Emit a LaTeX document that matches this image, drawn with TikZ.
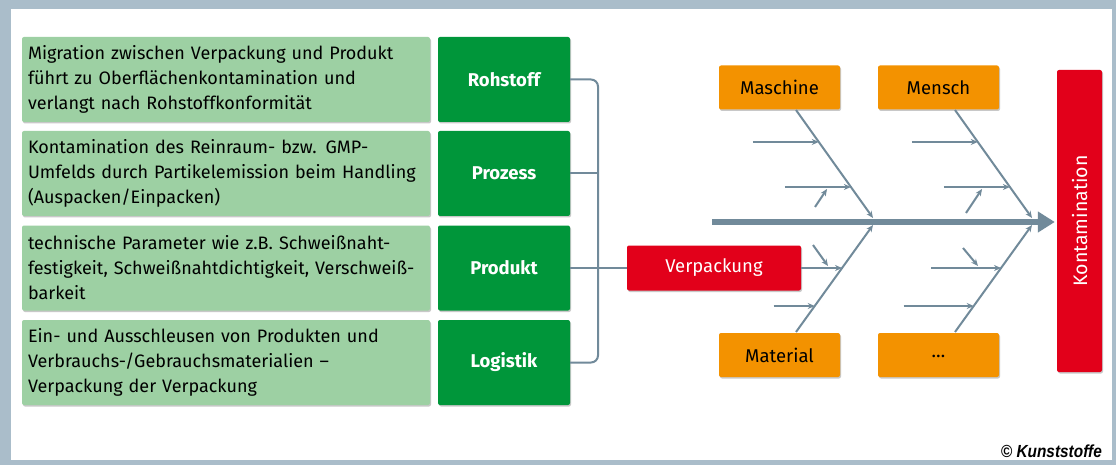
\documentclass[tikz,border=0pt]{standalone}
\usepackage{fontspec}
\setmainfont{Fira Sans}
\newfontfamily\cpyfont{Liberation Sans}
\usetikzlibrary{shadows,arrows.meta,calc}
\definecolor{lgreen}{HTML}{9DD0A3}
\definecolor{dgreen}{HTML}{00963A}
\definecolor{orng}{HTML}{F39200}
\definecolor{rd}{HTML}{E2001A}
\definecolor{ln}{HTML}{718A9A}
\definecolor{frm}{HTML}{AABDCA}
\begin{document}
\begin{tikzpicture}[x=1pt,y=-1pt,
  box/.style={rounded corners=2pt, drop shadow={shadow xshift=1pt,shadow yshift=-1.5pt,opacity=0.3,fill=black!70}, inner sep=0pt},
  desc/.style={box, fill=lgreen, minimum width=408pt, minimum height=85pt, text width=396pt, inner xsep=6pt, align=left, font=\fontsize{18}{25}\selectfont},
  cat/.style={box, fill=dgreen, minimum width=132pt, minimum height=85pt, text=white, font=\fontsize{18.5}{20}\selectfont\bfseries},
  orbox/.style={box, fill=orng, minimum width=121pt, minimum height=44pt, font=\fontsize{18.5}{20}\selectfont},
  redbox/.style={box, fill=rd, text=white, font=\fontsize{18.5}{20}\selectfont},
  conn/.style={draw=ln, line width=2pt},
  tarrow/.style={draw=ln, line width=2pt, -{Stealth[length=7pt,width=6pt]}},
]
\useasboundingbox (0,0) rectangle (1116,465);
\fill[frm] (0,0) rectangle (1116,465);
\fill[white] (11,9) rectangle (1112,460);

% left columns
\node[desc] (d1) at (226,79.5) {Migration zwischen Verpackung und Produkt\\führt zu Oberflächenkontamination und\\verlangt nach Rohstoffkonformität};
\node[desc] (d2) at (226,173.5) {Kontamination des Reinraum- bzw. GMP-\\Umfelds durch Partikelemission beim Handling\\(Auspacken/Einpacken)};
\node[desc] (d3) at (226,268) {technische Parameter wie z.B. Schweißnaht-\\festigkeit, Schweißnahtdichtigkeit, Verschweiß-\\barkeit};
\node[desc] (d4) at (226,362.5) {Ein- und Ausschleusen von Produkten und\\Verbrauchs-/Gebrauchsmaterialien --\\Verpackung der Verpackung};
\node[cat] (rohstoff) at (504,79.5) {Rohstoff};
\node[cat] (prozess) at (504,173.5) {Prozess};
\node[cat] (produkt) at (504,268) {Produkt};
\node[cat] (logistik) at (504,362.5) {Logistik};

% fishbone boxes
\node[redbox, minimum width=174pt, minimum height=45pt] (verp) at (714,268) {Verpackung};
\node[redbox, minimum width=45pt, minimum height=302pt, font=\fontsize{19.5}{20}\selectfont] (kont) at (1079.5,221) {\rotatebox{90}{Kontamination}};
\node[orbox] (maschine) at (779.5,87.5) {Maschine};
\node[orbox] (mensch) at (938.5,87.5) {Mensch};
\node[orbox] (material) at (779.5,355) {Material};
\node[orbox] (etc) at (938.5,355) {\raisebox{-0.5ex}{\dots}};

% bracket
\draw[conn, rounded corners=7pt] (rohstoff.east) -- (598,79.5) |- (logistik.east);
\draw[conn] (prozess.east) -- (598,173.5);
\draw[conn] (produkt.east) -- (verp.west);

% spine
\coordinate (sp0) at (712,222);
\draw[draw=ln, line width=5pt, -{Triangle[length=17pt,width=20pt]}] (sp0) -- ($(kont.west |- sp0)+(-2,0)$);

% branches
\coordinate (mb) at (796,110);   \coordinate (mj) at (873,218);
\coordinate (hb) at (955,110);   \coordinate (hj) at (1032,218);
\coordinate (lb) at (796,332);   \coordinate (lj) at (873,225);
\coordinate (rb) at (955,332);   \coordinate (rj) at (1032,225);
\draw[tarrow] (mb) -- (mj);
\draw[tarrow] (hb) -- (hj);
\draw[tarrow] (lb) -- (lj);
\draw[tarrow] (rb) -- (rj);

% horizontal sub-arrows
\coordinate (m1) at ($(mb)!0.296!(mj)$); \coordinate (m2) at ($(mb)!0.713!(mj)$);
\coordinate (h1) at ($(hb)!0.296!(hj)$); \coordinate (h2) at ($(hb)!0.713!(hj)$);
\coordinate (l1) at ($(lb)!0.598!(lj)$); \coordinate (l2) at ($(lb)!0.243!(lj)$);
\coordinate (r1) at ($(rb)!0.598!(rj)$); \coordinate (r2) at ($(rb)!0.243!(rj)$);
\draw[tarrow] ($(m1)+(-66,0)$) -- (m1);
\draw[tarrow] ($(m2)+(-66,0)$) -- (m2);
\draw[tarrow] ($(h1)+(-66,0)$) -- (h1);
\draw[tarrow] ($(h2)+(-66,0)$) -- (h2);
\draw[tarrow] (verp.east |- l1) -- (l1);
\draw[tarrow] ($(l2)+(-41,0)$) -- (l2);
\draw[tarrow] ($(r1)+(-70,0)$) -- (r1);
\draw[tarrow] ($(r2)+(-70,0)$) -- (r2);

% small diagonal arrows
\coordinate (s1a) at (815,207); \coordinate (s1b) at (827,189);
\coordinate (s2a) at (966,213); \coordinate (s2b) at (982,189);
\coordinate (s3a) at (813,245); \coordinate (s3b) at (828,266);
\coordinate (s4a) at (963,248); \coordinate (s4b) at (978,266);
\draw[tarrow] (s1a) -- (s1b);
\draw[tarrow] (s2a) -- (s2b);
\draw[tarrow] (s3a) -- (s3b);
\draw[tarrow] (s4a) -- (s4b);

% copyright
\node[anchor=south east, inner sep=0pt] (copy) at (1102,458) {\scalebox{0.88}[1]{\cpyfont\fontsize{17.5}{20}\selectfont\bfseries\itshape © Kunststoffe}};
\end{tikzpicture}
\end{document}
